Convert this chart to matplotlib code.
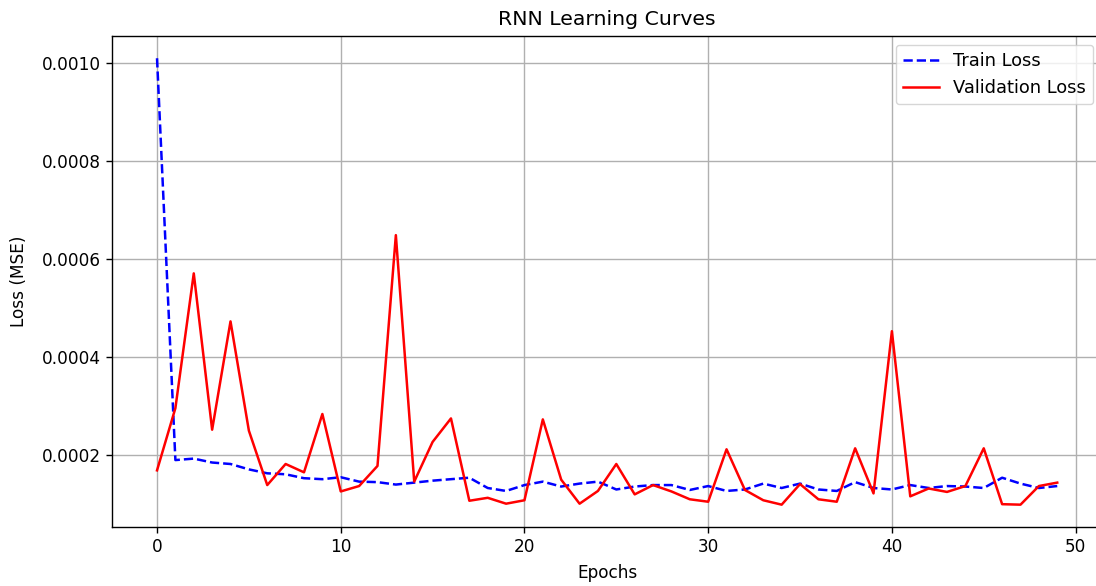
import matplotlib
matplotlib.use("Agg")
import matplotlib.pyplot as plt

# 每个 epoch 的损失值
train_loss = [0.00101, 0.000190, 0.000193, 0.000185, 0.000182, 0.000171, 0.000163, 0.000161,
              0.000153, 0.000151, 0.000155, 0.000146, 0.000145, 0.000140, 0.000144, 0.000148,
              0.000151, 0.000154, 0.000133, 0.000127, 0.000139, 0.000146, 0.000136, 0.000142,
              0.000146, 0.000130, 0.000136, 0.000139, 0.000139, 0.000129, 0.000137, 0.000127,
              0.000130, 0.000142, 0.000133, 0.000142, 0.000130, 0.000127, 0.000145, 0.000133,
              0.000130, 0.000139, 0.000133, 0.000137, 0.000136, 0.000133, 0.000154, 0.000142,
              0.000133, 0.000137]
val_loss = [0.000169, 0.000296, 0.000571, 0.000252, 0.000473, 0.000250, 0.000139, 0.000182,
            0.000165, 0.000284, 0.000126, 0.000137, 0.000178, 0.000649, 0.000146, 0.000227,
            0.000275, 0.000107, 0.000113, 0.000101, 0.000108, 0.000273, 0.000150, 0.000101,
            0.000127, 0.000182, 0.000120, 0.000139, 0.000126, 0.000110, 0.000105, 0.000212,
            0.000129, 0.000108, 0.000099, 0.000141, 0.000110, 0.000105, 0.000214, 0.000122,
            0.000453, 0.000116, 0.000132, 0.000125, 0.000137, 0.000214, 0.000100, 0.000099,
            0.000137, 0.000144]
epochs = list(range(len(train_loss)))

fs = 12.2
fig = plt.figure(figsize=(10.96, 5.86), dpi=100)
# 右边缘在图片外（参考图被裁切）
ax = fig.add_axes([0.1022, 0.1007, 0.9035, 0.838])

ax.plot(epochs, train_loss, color="blue", linestyle="--", linewidth=1.8, label="Train Loss")
ax.plot(epochs, val_loss, color="red", linestyle="-", linewidth=1.8, label="Validation Loss")

ax.set_title("RNN Learning Curves", fontsize=fs * 1.2, pad=8)
ax.set_xlabel("Epochs", fontsize=fs, labelpad=6)
ax.set_ylabel("Loss (MSE)", fontsize=fs, labelpad=10)
ax.tick_params(labelsize=fs, width=1.0, length=4.2)
ax.grid(True, color="#b0b0b0", linewidth=1.0)
for s in ax.spines.values():
    s.set_linewidth(1.0)
ax.spines["right"].set_visible(False)
ax.legend(fontsize=12.9, loc="upper right")

fig.savefig("out.png", dpi=100)
